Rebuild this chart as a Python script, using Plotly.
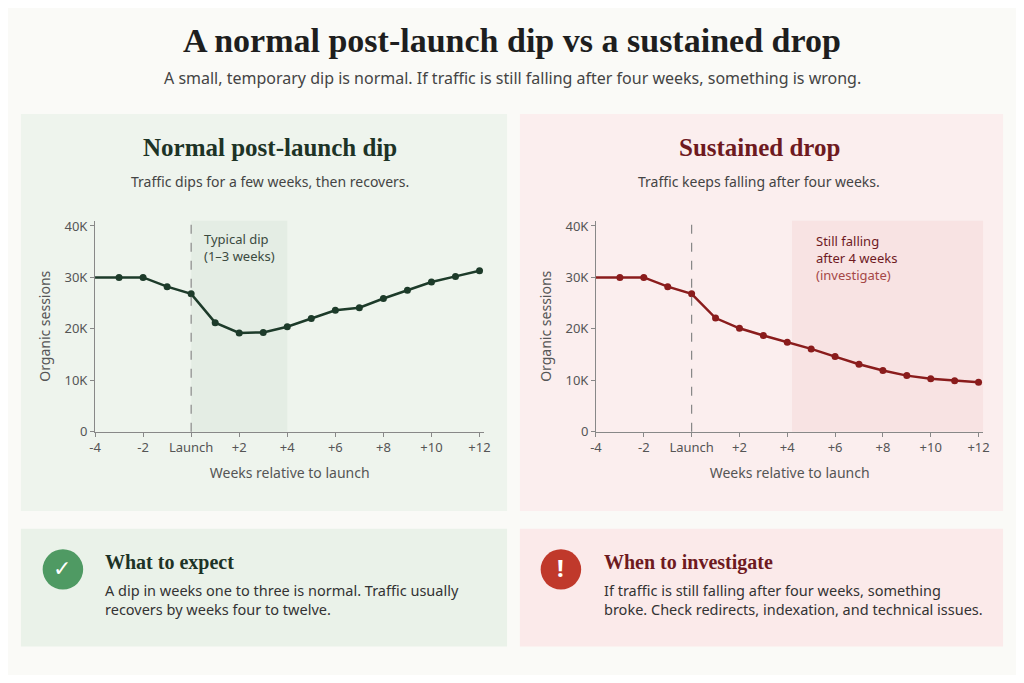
import plotly.graph_objects as go

weeks = list(range(-4, 13))
normal_dip = [30.0, 30.0, 30.0, 28.2, 26.8, 21.2, 19.2, 19.3, 20.4, 22.0, 23.6, 24.1, 25.9, 27.5, 29.1, 30.2, 31.3]
sustained_drop = [30.0, 30.0, 30.0, 28.2, 26.8, 22.1, 20.1, 18.7, 17.4, 16.1, 14.6, 13.1, 11.9, 10.9, 10.3, 9.9, 9.6]
tick_vals = [-4, -2, 0, 2, 4, 6, 8, 10, 12]
tick_text = ["-4", "-2", "Launch", "+2", "+4", "+6", "+8", "+10", "+12"]
y_vals = [0, 10000, 20000, 30000, 40000]
y_text = ["0", "10K", "20K", "30K", "40K"]

# page body adds an 8px margin, so draw on a smaller canvas shifted by 8px
OFF = 8
W, H = 1024 - 2 * OFF, 683 - 2 * OFF
GREEN = "#1d3b2a"
RED = "#8a1c1c"
SERIF = "Liberation Serif"
SANS = "Noto Sans"


def px(x):
    return (x - OFF) / W


def py(y):
    return 1 - (y - OFF) / H


fig = go.Figure()

fig.add_trace(go.Scatter(x=weeks[1:], y=[v * 1000 for v in normal_dip[1:]], mode="lines+markers",
                         line=dict(color=GREEN, width=2.5), marker=dict(size=7, color=GREEN),
                         xaxis="x", yaxis="y", showlegend=False))
fig.add_trace(go.Scatter(x=weeks[:2], y=[v * 1000 for v in normal_dip[:2]], mode="lines",
                         line=dict(color=GREEN, width=2.5), xaxis="x", yaxis="y", showlegend=False))
fig.add_trace(go.Scatter(x=weeks[1:], y=[v * 1000 for v in sustained_drop[1:]], mode="lines+markers",
                         line=dict(color=RED, width=2.5), marker=dict(size=7, color=RED),
                         xaxis="x2", yaxis="y2", showlegend=False))
fig.add_trace(go.Scatter(x=weeks[:2], y=[v * 1000 for v in sustained_drop[:2]], mode="lines",
                         line=dict(color=RED, width=2.5), xaxis="x2", yaxis="y2", showlegend=False))

ydom = [py(436), py(221)]
axis_common = dict(showgrid=False, zeroline=False, showline=True, linecolor="#888", linewidth=1,
                   ticks="outside", ticklen=4, tickcolor="#888",
                   tickfont=dict(family=SANS, size=13, color="#555"))
title_font = dict(family=SANS, size=14, color="#555")
fig.update_layout(
    width=W, height=H, margin=dict(l=0, r=0, t=0, b=0),
    paper_bgcolor="#fafaf7", plot_bgcolor="rgba(0,0,0,0)",
    xaxis=dict(domain=[px(90), px(484)], range=[-4, 12.2], tickvals=tick_vals, ticktext=tick_text,
               title=dict(text="Weeks relative to launch", font=title_font, standoff=12),
               **axis_common),
    yaxis=dict(domain=ydom, range=[0, 41000], tickvals=y_vals, ticktext=y_text, anchor="x",
               title=dict(text="Organic sessions", font=title_font, standoff=10),
               **axis_common),
    xaxis2=dict(domain=[px(597), px(989)], range=[-4, 12.2], tickvals=tick_vals, ticktext=tick_text, anchor="y2",
                title=dict(text="Weeks relative to launch", font=title_font, standoff=12),
                **axis_common),
    yaxis2=dict(domain=ydom, range=[0, 41000], tickvals=y_vals, ticktext=y_text, anchor="x2",
                title=dict(text="Organic sessions", font=title_font, standoff=10),
                **axis_common),
)

shapes = [
    dict(type="rect", xref="paper", yref="paper", x0=px(15), x1=px(507), y0=py(517), y1=py(112),
         fillcolor="#eef4ed", line=dict(width=0), layer="below"),
    dict(type="rect", xref="paper", yref="paper", x0=px(520), x1=px(1009), y0=py(517), y1=py(112),
         fillcolor="#fbeeee", line=dict(width=0), layer="below"),
    dict(type="rect", xref="paper", yref="paper", x0=px(15), x1=px(507), y0=py(655), y1=py(535),
         fillcolor="#eaf2e9", line=dict(width=0), layer="below"),
    dict(type="rect", xref="paper", yref="paper", x0=px(520), x1=px(1009), y0=py(655), y1=py(535),
         fillcolor="#fbeaea", line=dict(width=0), layer="below"),
    dict(type="rect", xref="x", yref="paper", x0=0, x1=4, y0=ydom[0], y1=ydom[1],
         fillcolor="#dfeadf", opacity=0.7, line=dict(width=0), layer="below"),
    dict(type="rect", xref="x2", yref="paper", x0=4.2, x1=12.2, y0=ydom[0], y1=ydom[1],
         fillcolor="#f6dede", opacity=0.7, line=dict(width=0), layer="below"),
    dict(type="line", xref="x", yref="paper", x0=0, x1=0, y0=ydom[0], y1=ydom[1],
         line=dict(color="#888", width=1.2, dash="dash")),
    dict(type="line", xref="x2", yref="paper", x0=0, x1=0, y0=ydom[0], y1=ydom[1],
         line=dict(color="#888", width=1.2, dash="dash")),
    dict(type="circle", xref="paper", yref="paper", x0=px(37), x1=px(78), y0=py(597), y1=py(556),
         fillcolor="#4f9a63", line=dict(width=0)),
    dict(type="circle", xref="paper", yref="paper", x0=px(541), x1=px(582), y0=py(597), y1=py(556),
         fillcolor="#c0392b", line=dict(width=0)),
]
fig.update_layout(shapes=shapes)


def txt(x, y, text, size, color, family=SANS, xanchor="center", bold=False):
    if bold:
        text = "<b>" + text + "</b>"
    fig.add_annotation(xref="paper", yref="paper", x=px(x), y=py(y), text=text, showarrow=False,
                       xanchor=xanchor, yanchor="middle", align="left",
                       font=dict(family=family, size=size, color=color))


txt(512, 37, "A normal post-launch dip vs a sustained drop", 34, "#1e1e1e", SERIF, bold=True)
txt(512, 75, "A small, temporary dip is normal. If traffic is still falling after four weeks, something is wrong.", 16, "#444")
txt(267, 146, "Normal post-launch dip", 25, "#1d3326", SERIF, bold=True)
txt(267, 181, "Traffic dips for a few weeks, then recovers.", 14, "#444")
txt(762, 146, "Sustained drop", 25, "#6e1a1f", SERIF, bold=True)
txt(762, 181, "Traffic keeps falling after four weeks.", 14, "#444")
fig.add_annotation(xref="x", yref="paper", x=2, y=py(248), text="Typical dip<br>(1–3 weeks)", showarrow=False,
                   font=dict(family=SANS, size=13, color="#3b4a3f"), align="left")
fig.add_annotation(xref="x2", yref="paper", x=5.1, y=py(259), xanchor="left",
                   text="Still falling<br>after 4 weeks<br><span style='color:#a54848'>(investigate)</span>",
                   showarrow=False, font=dict(family=SANS, size=13, color="#6e1a1f"), align="left")

txt(57, 576, "✓", 22, "white", "DejaVu Sans", bold=True)
txt(561, 575, "!", 24, "white", SANS, bold=True)
txt(98, 569, "What to expect", 20, "#1d3326", SERIF, xanchor="left", bold=True)
txt(98, 607, "A dip in weeks one to three is normal. Traffic usually<br>recovers by weeks four to twelve.", 14.5, "#333", xanchor="left")
txt(603, 569, "When to investigate", 20, "#6e1a1f", SERIF, xanchor="left", bold=True)
txt(603, 607, "If traffic is still falling after four weeks, something<br>broke. Check redirects, indexation, and technical issues.", 14.5, "#333", xanchor="left")

fig.write_html("out.html")
